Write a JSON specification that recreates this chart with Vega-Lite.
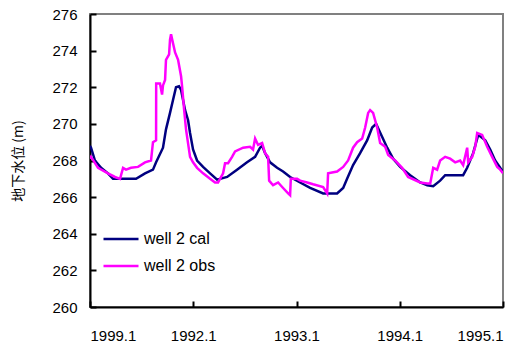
{
  "$schema": "https://vega.github.io/schema/vega-lite/v6.json",
  "autosize": "none",
  "width": 413,
  "height": 293,
  "padding": {"left": 90, "top": 14, "right": 21, "bottom": 35},
  "background": "white",
  "config": {
    "view": {"stroke": "#808080", "strokeWidth": 2},
    "axis": {"labelFont": "Liberation Sans", "labelFontSize": 15, "labelColor": "black", "grid": false, "domainColor": "black", "domainWidth": 2, "tickColor": "black", "tickWidth": 2, "labelOverlap": false, "zindex": 1}
  },
  "datasets": {
    "cal": [
      {"t": 0.000, "v": 268.8}, {"t": 0.010, "v": 268.7}, {"t": 0.048, "v": 268.0}, {"t": 0.107, "v": 267.6},
      {"t": 0.174, "v": 267.3}, {"t": 0.223, "v": 267.0}, {"t": 0.446, "v": 267.0}, {"t": 0.533, "v": 267.3},
      {"t": 0.610, "v": 267.5}, {"t": 0.640, "v": 267.9}, {"t": 0.707, "v": 268.7}, {"t": 0.736, "v": 269.7},
      {"t": 0.775, "v": 270.6}, {"t": 0.804, "v": 271.3}, {"t": 0.833, "v": 272.0}, {"t": 0.862, "v": 272.05},
      {"t": 0.882, "v": 271.85}, {"t": 0.921, "v": 270.75}, {"t": 0.950, "v": 270.2}, {"t": 0.969, "v": 269.5},
      {"t": 0.998, "v": 268.6}, {"t": 1.037, "v": 268.0}, {"t": 1.095, "v": 267.65}, {"t": 1.163, "v": 267.3},
      {"t": 1.231, "v": 266.95}, {"t": 1.328, "v": 267.1}, {"t": 1.424, "v": 267.5}, {"t": 1.521, "v": 267.9},
      {"t": 1.599, "v": 268.2}, {"t": 1.647, "v": 268.7}, {"t": 1.667, "v": 268.8}, {"t": 1.696, "v": 268.4},
      {"t": 1.744, "v": 267.9}, {"t": 1.812, "v": 267.6}, {"t": 1.870, "v": 267.4}, {"t": 1.938, "v": 267.1},
      {"t": 2.035, "v": 266.8}, {"t": 2.132, "v": 266.5}, {"t": 2.258, "v": 266.2}, {"t": 2.393, "v": 266.2},
      {"t": 2.452, "v": 266.5}, {"t": 2.490, "v": 267.0}, {"t": 2.548, "v": 267.75}, {"t": 2.616, "v": 268.4},
      {"t": 2.684, "v": 269.1}, {"t": 2.733, "v": 269.8}, {"t": 2.771, "v": 270.0}, {"t": 2.829, "v": 269.3},
      {"t": 2.878, "v": 268.7}, {"t": 2.936, "v": 268.1}, {"t": 3.004, "v": 267.65}, {"t": 3.101, "v": 267.2},
      {"t": 3.198, "v": 266.8}, {"t": 3.266, "v": 266.65}, {"t": 3.324, "v": 266.6}, {"t": 3.391, "v": 266.9},
      {"t": 3.440, "v": 267.2}, {"t": 3.614, "v": 267.2}, {"t": 3.653, "v": 267.6}, {"t": 3.711, "v": 268.4},
      {"t": 3.760, "v": 269.4}, {"t": 3.828, "v": 269.1}, {"t": 3.876, "v": 268.6}, {"t": 3.924, "v": 268.0},
      {"t": 3.973, "v": 267.6}, {"t": 4.000, "v": 267.4}
    ],
    "obs": [
      {"t": 0.000, "v": 268.1}, {"t": 0.010, "v": 268.2}, {"t": 0.078, "v": 267.6}, {"t": 0.174, "v": 267.3},
      {"t": 0.242, "v": 267.1}, {"t": 0.291, "v": 267.0}, {"t": 0.320, "v": 267.6}, {"t": 0.349, "v": 267.5},
      {"t": 0.397, "v": 267.6}, {"t": 0.465, "v": 267.65}, {"t": 0.533, "v": 267.9}, {"t": 0.591, "v": 268.0},
      {"t": 0.610, "v": 269.0}, {"t": 0.640, "v": 269.1}, {"t": 0.641, "v": 272.2}, {"t": 0.678, "v": 272.2},
      {"t": 0.698, "v": 271.6}, {"t": 0.707, "v": 272.1}, {"t": 0.727, "v": 272.4}, {"t": 0.736, "v": 273.5},
      {"t": 0.766, "v": 273.8}, {"t": 0.775, "v": 274.6}, {"t": 0.785, "v": 274.9}, {"t": 0.804, "v": 274.4},
      {"t": 0.824, "v": 273.9}, {"t": 0.853, "v": 273.5}, {"t": 0.882, "v": 272.6}, {"t": 0.891, "v": 272.1},
      {"t": 0.911, "v": 270.8}, {"t": 0.930, "v": 269.7}, {"t": 0.969, "v": 268.2}, {"t": 0.998, "v": 267.9},
      {"t": 1.037, "v": 267.6}, {"t": 1.095, "v": 267.3}, {"t": 1.163, "v": 267.0}, {"t": 1.211, "v": 266.8},
      {"t": 1.240, "v": 266.8}, {"t": 1.289, "v": 267.3}, {"t": 1.308, "v": 267.85}, {"t": 1.337, "v": 267.85},
      {"t": 1.376, "v": 268.2}, {"t": 1.405, "v": 268.5}, {"t": 1.483, "v": 268.7}, {"t": 1.550, "v": 268.75},
      {"t": 1.579, "v": 268.6}, {"t": 1.599, "v": 269.2}, {"t": 1.628, "v": 268.85}, {"t": 1.667, "v": 268.95},
      {"t": 1.696, "v": 268.4}, {"t": 1.725, "v": 268.2}, {"t": 1.735, "v": 266.9}, {"t": 1.773, "v": 266.65},
      {"t": 1.822, "v": 266.8}, {"t": 1.870, "v": 266.5}, {"t": 1.919, "v": 266.2}, {"t": 1.938, "v": 266.1},
      {"t": 1.945, "v": 267.0}, {"t": 2.006, "v": 267.0}, {"t": 2.035, "v": 266.9}, {"t": 2.103, "v": 266.8},
      {"t": 2.161, "v": 266.7}, {"t": 2.258, "v": 266.55}, {"t": 2.297, "v": 266.2}, {"t": 2.306, "v": 267.3},
      {"t": 2.393, "v": 267.4}, {"t": 2.452, "v": 267.65}, {"t": 2.500, "v": 268.0}, {"t": 2.548, "v": 268.7},
      {"t": 2.587, "v": 269.0}, {"t": 2.636, "v": 269.2}, {"t": 2.665, "v": 269.8}, {"t": 2.694, "v": 270.6},
      {"t": 2.713, "v": 270.75}, {"t": 2.742, "v": 270.6}, {"t": 2.781, "v": 269.8}, {"t": 2.810, "v": 268.95},
      {"t": 2.859, "v": 268.75}, {"t": 2.888, "v": 268.3}, {"t": 2.955, "v": 268.0}, {"t": 3.023, "v": 267.6},
      {"t": 3.081, "v": 267.1}, {"t": 3.198, "v": 266.8}, {"t": 3.266, "v": 266.75}, {"t": 3.295, "v": 266.75},
      {"t": 3.314, "v": 267.3}, {"t": 3.324, "v": 267.6}, {"t": 3.362, "v": 267.5}, {"t": 3.391, "v": 268.0},
      {"t": 3.440, "v": 268.2}, {"t": 3.488, "v": 268.1}, {"t": 3.537, "v": 267.9}, {"t": 3.585, "v": 268.0},
      {"t": 3.614, "v": 267.75}, {"t": 3.653, "v": 268.7}, {"t": 3.663, "v": 267.9}, {"t": 3.702, "v": 268.2},
      {"t": 3.731, "v": 268.75}, {"t": 3.750, "v": 269.5}, {"t": 3.798, "v": 269.4}, {"t": 3.847, "v": 268.75},
      {"t": 3.895, "v": 268.2}, {"t": 3.944, "v": 267.65}, {"t": 3.973, "v": 267.5}, {"t": 4.000, "v": 267.3}
    ]
  },
  "encoding": {
    "x": {
      "field": "year", "type": "quantitative",
      "scale": {"domain": [1991, 1995], "nice": false, "zero": false},
      "axis": {"title": null, "values": [1991, 1992, 1993, 1994, 1995], "tickSize": -6, "labelPadding": 27, "labelDx": -2, "labelOverlap": false,
        "labelExpr": "datum.value == 1991 ? '1999.1' : format(datum.value, 'd') + '.1'"}
    },
    "y": {
      "field": "v", "type": "quantitative",
      "scale": {"domain": [260, 276], "nice": false, "zero": false},
      "axis": {"title": "地下水位 (m)", "titleFont": "Noto Sans CJK SC", "titleFontSize": 14, "titleFontWeight": "normal", "titleColor": "black",
        "values": [260, 262, 264, 266, 268, 270, 272, 274, 276], "tickSize": -6, "labelPadding": 19, "titlePadding": 26, "labelOverlap": false}
    },
    "color": {
      "field": "series", "type": "nominal",
      "scale": {"domain": ["well 2 cal", "well 2 obs"], "range": ["#000080", "#FF00FF"]},
      "legend": {"title": null, "orient": "none", "legendX": 12, "legendY": 206, "symbolType": "stroke", "symbolSize": 1225,
        "symbolStrokeWidth": 2.5, "labelFont": "Liberation Sans", "labelFontSize": 16, "labelColor": "black", "rowPadding": -20, "labelOffset": 4, "padding": 0}
    }
  },
  "layer": [
    {
      "data": {"name": "cal"},
      "transform": [{"calculate": "'well 2 cal'", "as": "series"}, {"calculate": "1991 + datum.t", "as": "year"}],
      "mark": {"type": "line", "strokeWidth": 2.5, "clip": true}
    },
    {
      "data": {"name": "obs"},
      "transform": [{"calculate": "'well 2 obs'", "as": "series"}, {"calculate": "1991 + datum.t", "as": "year"}],
      "mark": {"type": "line", "strokeWidth": 2.5, "clip": true}
    }
  ]
}
